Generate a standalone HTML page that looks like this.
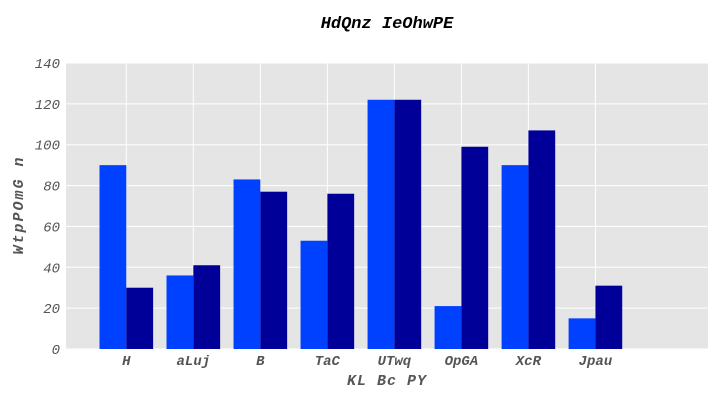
<!DOCTYPE html>
<html><head><meta charset="utf-8"><style>body{margin:0;background:#fff}svg text{font-family:"Liberation Mono",monospace;font-style:italic}</style></head>
<body>
<svg id="c" width="720" height="400"></svg>
<script>
const categories=["H","aLuj","B","TaC","UTwq","OpGA","XcR","Jpau"];
const series1=[90,36,83,53,122,21,90,15];
const series2=[30,41,77,76,122,99,107,31];
const yTicks=[0,20,40,60,80,100,120,140];
const svg=document.getElementById('c');
const NS="http://www.w3.org/2000/svg";
const L=66,R=708,T=63,B=349;
const x0=-0.9,x1=8.68;
const X=v=>L+(v-x0)/(x1-x0)*(R-L);
const Y=v=>B-v/140*(B-T);
function mk(t,a,p){const e=document.createElementNS(NS,t);for(const k in a)e.setAttribute(k,a[k]);(p||svg).appendChild(e);return e;}
const bg=mk('rect',{x:L,y:T,width:R-L,height:B-T,fill:'#e5e5e5'});


yTicks.forEach(v=>{
 const g=mk('line',{x1:L,x2:R,y1:Y(v),y2:Y(v),stroke:'#fff','stroke-width':1});
 
 
 const t=mk('text',{x:L-6,y:Y(v)+5,'text-anchor':'end','font-size':14,fill:'#555'});t.textContent=v;
 
 
});
categories.forEach((c,i)=>{
 const g=mk('line',{x1:X(i),x2:X(i),y1:T,y2:B,stroke:'#fff','stroke-width':1});
 
 
});
categories.forEach((c,i)=>{
 const w=X(0.4)-X(0);
 const b1=mk('rect',{x:X(i-0.4),y:Y(series1[i]),width:w,height:B-Y(series1[i]),fill:'#0040ff'});
 
 
 const b2=mk('rect',{x:X(i),y:Y(series2[i]),width:w,height:B-Y(series2[i]),fill:'#000099'});
 
 
 const t=mk('text',{x:X(i),y:B+16,'text-anchor':'middle','font-size':14,'font-weight':'bold',fill:'#555'});t.textContent=c;
 
 
});
const ti=mk('text',{x:387,y:28,'text-anchor':'middle','font-size':17,'font-weight':'bold',fill:'#000'});ti.textContent='HdQnz IeOhwPE';


const xl=mk('text',{x:387,y:385,'text-anchor':'middle','font-size':15,'font-weight':'bold','letter-spacing':1,fill:'#555'});xl.textContent='KL Bc PY';


const yl=mk('text',{x:0,y:0,'text-anchor':'middle','font-size':15,'font-weight':'bold','letter-spacing':2,fill:'#555',transform:'translate(23,205) rotate(-90)'});yl.textContent='WtpPOmG  n';


</script>
</body></html>
